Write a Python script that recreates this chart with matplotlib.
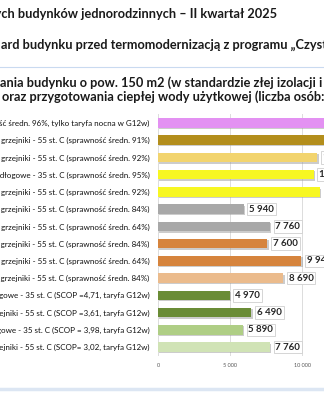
import matplotlib
matplotlib.use("Agg")
import matplotlib.pyplot as plt
import matplotlib.patheffects as pe
from matplotlib.lines import Line2D

plt.rcParams['font.family'] = ['Lato', 'DejaVu Sans']

categories = [
    "Ogrzewanie elektryczne – piece akumulacyjne (sprawność średn. 96%, tylko taryfa nocna w G12w)",
    "Kocioł olejowy kondensacyjny + grzejniki - 55 st. C (sprawność średn. 91%)",
    "Kocioł gazowy (LPG) kondensacyjny + grzejniki - 55 st. C (sprawność średn. 92%)",
    "Kocioł gazowy kondensacyjny + ogrzewanie podłogowe - 35 st. C (sprawność średn. 95%)",
    "Kocioł gazowy kondensacyjny + grzejniki - 55 st. C (sprawność średn. 92%)",
    "Kocioł na ekogroszek (5 klasa) + grzejniki - 55 st. C (sprawność średn. 84%)",
    "Kocioł węglowy zasypowy + grzejniki - 55 st. C (sprawność średn. 64%)",
    "Kocioł na drewno (5 klasa) + grzejniki - 55 st. C (sprawność średn. 84%)",
    "Kocioł na drewno zasypowy + grzejniki - 55 st. C (sprawność średn. 64%)",
    "Kocioł na pellet (5 klasa) + grzejniki - 55 st. C (sprawność średn. 84%)",
    "Pompa ciepła gruntowa + ogrzewanie podłogowe - 35 st. C (SCOP =4,71, taryfa G12w)",
    "Pompa ciepła gruntowa + grzejniki - 55 st. C (SCOP =3,61, taryfa G12w)",
    "Pompa ciepła powietrzna + ogrzewanie podłogowe - 35 st. C (SCOP = 3,98, taryfa G12w)",
    "Pompa ciepła powietrzna + grzejniki - 55 st. C (SCOP= 3,02, taryfa G12w)",
]
values = [13500, 12600, 11070, 10810, 11230, 5940, 7760, 7600, 9946, 8690, 4970, 6490, 5890, 7760]
colors = ["#E391F2", "#B38E1C", "#F2D46E", "#F7F722", "#F7F722", "#A8A8A8", "#A8A8A8",
          "#D6843D", "#D6843D", "#EBBB8C", "#6A8C36", "#6A8C36", "#AFCE85", "#D0E3B5"]
xticks = [0, 5000, 10000, 15000]
xticklabels = ["0", "5 000", "10 000", "15 000"]

W, H = 324, 400
fig = plt.figure(figsize=(W / 100, H / 100), dpi=100)
fig.patch.set_facecolor("white")

def fx(px):
    return px / W

def fy(py):
    return 1 - py / H

# axes: x 0 at px 158, 5000 units = 72 px; bars centered from y=123 to 347
n = len(values)
step = (347 - 123) / (n - 1)
top = 123 - step / 2
bot = 347 + step / 2
ax = fig.add_axes([fx(158), fy(bot), 216 / W, (bot - top) / H])
ax.set_xlim(0, 15000)
ax.set_ylim(n - 0.5, -0.5)

shadow = [pe.SimplePatchShadow(offset=(1, -1), shadow_rgbFace="#9A9A9A", alpha=0.5), pe.Normal()]
bars = ax.barh(range(n), values, height=0.55, color=colors, zorder=3)
for b in bars:
    b.set_path_effects(shadow)

for i, v in enumerate(values):
    lab = f"{v:,}".replace(",", " ")
    ax.annotate(lab, xy=(v, i), xytext=(4, 0), textcoords="offset points",
                ha="left", va="center", fontsize=7, fontweight="bold", color="#262626",
                bbox=dict(boxstyle="square,pad=0.18", fc="white", ec="#CFCFCF", lw=0.6),
                zorder=5, annotation_clip=False)

ax.set_yticks(range(n))
ax.set_yticklabels(categories, fontsize=5.8, color="#111111")
ax.tick_params(axis="y", length=0, pad=6)
ax.set_xticks(xticks)
ax.set_xticklabels(xticklabels, fontsize=4, color="#595959")
ax.tick_params(axis="x", length=0, pad=5)
ax.grid(axis="x", color="#DCDCDC", lw=0.7, zorder=0)
for s in ax.spines.values():
    s.set_visible(False)

# titles (cropped slide text)
tkw = dict(fontsize=9.2, fontweight="bold", color="#1a1a1a", va="center")
fig.text(fx(277), fy(14), "Koszty ogrzewania typowych budynków jednorodzinnych – II kwartał 2025", ha="right", **tkw)
fig.text(fx(1), fy(45), "Stand", ha="right", **tkw)
fig.text(fx(1), fy(45), "ard budynku przed termomodernizacją z programu „Czyste Powietrze”", ha="left", **tkw)
fig.text(fx(0), fy(83), "Koszty ogrzew", ha="right", **tkw)
fig.text(fx(0), fy(83), "ania budynku o pow. 150 m2 (w standardzie złej izolacji i stolarki)", ha="left", **tkw)
fig.text(fx(2), fy(97), "oraz przygotowania ciepłej wody użytkowej (liczba osób: 4)", ha="left", **tkw)

fig.add_artist(Line2D([0, 1], [fy(67), fy(67)], transform=fig.transFigure, color="#C9DAF0", lw=0.8))
fig.add_artist(Line2D([0, 1], [fy(389), fy(389)], transform=fig.transFigure, color="#DCE6F3", lw=2.5))

fig.savefig("out.png", dpi=100)
